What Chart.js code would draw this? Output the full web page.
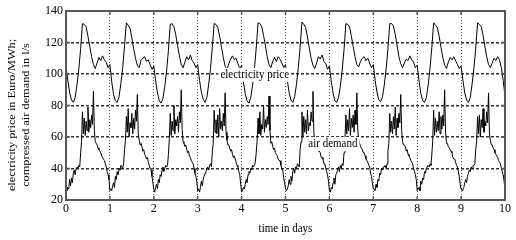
<!DOCTYPE html>
<html>
<head>
<meta charset="utf-8">
<script src="https://cdn.jsdelivr.net/npm/chart.js@4/dist/chart.umd.min.js"></script>
<style>
html,body{margin:0;padding:0;background:#fff;}
canvas{display:block;}
</style>
</head>
<body>
<canvas id="c" width="516" height="240"></canvas>
<script>
// ---- data ----
const xTickLabels = [0, 1, 2, 3, 4, 5, 6, 7, 8, 9, 10];
const yTickLabels = [20, 40, 60, 80, 100, 120, 140];
const seriesNames = ['electricity price', 'air demand'];
const xTitle = 'time in days';
const yTitle = ['electricity price in Euro/MWh;', 'compressed air demand in l/s'];

// electricity price, one value per hour (Euro/MWh)
const priceValues = [
  105, 96, 88, 83.5, 82, 85, 93, 103, 116, 132, 131.5, 130, 124, 117.5, 111, 106, 103.5, 107, 110.5, 108.5, 111.5, 109, 107.5, 104,
  106, 95, 87, 83, 82, 85.5, 94, 104, 118, 132.5, 131, 129, 123, 116, 110, 105.5, 104, 108.5, 110, 111, 108, 109, 106, 103,
  105, 95.5, 88, 83, 81.5, 84.5, 92, 102, 115, 131.5, 132, 130, 125, 118, 111.5, 106, 104, 107.5, 111, 109, 112, 108.5, 107, 104,
  106, 96, 88.5, 84, 82, 85, 93.5, 103.5, 117, 132, 131.5, 129.5, 124, 117, 110.5, 105, 103, 106.5, 109.5, 111.5, 109, 110, 106.5, 103.5,
  105.5, 95, 87.5, 83, 81.5, 85, 93, 103, 116.5, 132.5, 132, 130, 124.5, 118, 111, 106, 104, 108, 110.5, 108, 111, 109.5, 107, 104,
  106, 96, 88, 83.5, 82, 85.5, 93.5, 104, 117, 133, 131.5, 129.5, 123.5, 116.5, 110, 105.5, 103.5, 107, 111, 109.5, 112, 108, 106.5, 103,
  105, 95.5, 88, 83, 82, 85, 92.5, 102.5, 115.5, 132, 131.5, 130, 124, 117.5, 111, 106, 104.5, 108, 110, 111, 108.5, 110, 107, 104,
  106, 96, 88.5, 83.5, 82.5, 85.5, 93, 103, 116, 132, 132, 130.5, 125, 118, 111, 106.5, 104, 107, 109.5, 108.5, 111.5, 109, 107.5, 104,
  105.5, 95.5, 87.5, 83, 82, 85, 93, 103.5, 117, 132.5, 131, 129.5, 124, 117, 110.5, 105.5, 103.5, 107.5, 110.5, 109, 111, 108.5, 106, 103.5,
  105, 96, 88, 83.5, 82, 85, 93.5, 103.5, 116.5, 132.5, 131.5, 130, 124.5, 117.5, 111, 106, 104, 107, 110, 108.5, 111, 109, 104, 96,
  86
];

// compressed air demand, one value per half hour (l/s)
const airValues = [
  27,26,28,27,33,29,34,31,37,39,36,40,41,40,42,41,50,57,76,62,72,61,70,64,79,63,71,66,74,68,89,64,57,56,55,53,52,51,50,48,47,46,45,43,41,38,36,33,
  26,27,26,29,31,28,35,33,38,36,40,39,42,41,40,43,52,58,73,63,78,60,69,66,75,62,72,65,77,70,87,62,58,55,56,54,51,52,49,48,46,47,44,42,40,39,35,31,
  27,25,28,30,27,33,31,36,35,39,41,38,40,42,41,42,49,59,75,61,70,64,80,62,71,67,73,63,76,69,90,65,57,56,54,55,52,50,51,48,47,45,44,43,40,37,35,32,
  26,27,25,28,32,29,33,35,37,38,40,41,39,42,43,41,51,56,77,63,71,62,74,60,78,65,70,64,75,67,88,63,58,55,55,53,51,52,49,47,48,46,44,42,41,38,36,30,
  25,26,28,27,30,33,31,36,38,37,40,39,42,41,42,44,50,58,72,62,76,61,68,65,80,63,71,66,73,68,86,64,56,57,54,52,53,50,49,48,46,45,45,42,40,39,34,31,
  27,26,27,29,33,30,35,32,38,40,37,41,40,43,42,41,52,57,76,60,73,63,71,62,77,64,69,67,76,70,89,63,57,55,56,54,51,51,50,47,47,46,43,43,40,38,36,32,
  26,25,28,27,31,34,30,36,37,39,41,38,42,40,43,42,50,59,74,62,71,64,78,61,72,66,74,63,77,68,88,65,58,56,54,53,52,50,50,48,46,45,44,42,41,37,35,31,
  27,27,26,30,28,33,32,37,36,40,39,41,41,42,40,43,51,56,75,63,70,62,73,65,79,61,72,66,75,69,87,64,57,55,55,54,51,52,49,48,47,45,44,43,40,38,36,33,
  26,27,28,26,32,30,34,33,38,37,40,41,42,41,43,42,49,58,77,61,72,63,70,64,76,62,73,65,74,67,90,63,56,56,54,53,52,51,50,47,46,46,44,42,41,38,35,30,
  27,26,27,28,31,33,31,35,37,39,38,41,40,42,42,43,52,57,73,62,74,60,71,66,78,63,70,67,76,69,88,62,58,55,55,53,52,50,49,48,47,45,44,43,40,38,36,32,
  27
];

// time axis (days): hourly samples for price, half-hourly for air demand
const priceTime = priceValues.map((_, i) => i / 24);
const airTime = airValues.map((_, i) => i / 48);

// ---- drawing ----
const FONT = "'Liberation Serif', 'Times New Roman', serif";
Chart.defaults.font.family = FONT;
Chart.defaults.font.size = 12;
Chart.defaults.color = '#000';

const decor = {
  id: 'decor',
  afterDatasetsDraw(chart) {
    const {ctx, chartArea: a, scales: {x, y}} = chart;
    ctx.save();
    ctx.font = '11px ' + FONT;
    ctx.fillStyle = '#000';
    ctx.textAlign = 'center';
    ctx.textBaseline = 'middle';
    // in-plot series labels with white background
    const labels = [
      {text: seriesNames[0], x: 4.3, y: 99.5},
      {text: seriesNames[1], x: 6.08, y: 55.6}
    ];
    labels.forEach(l => {
      const px = x.getPixelForValue(l.x), py = y.getPixelForValue(l.y);
      const w = ctx.measureText(l.text).width;
      ctx.fillStyle = '#fff';
      ctx.fillRect(px - w / 2 - 2, py - 7, w + 4, 14);
      ctx.fillStyle = '#000';
      ctx.save();
      ctx.translate(px, py);
      ctx.scale(1, 1.15);
      ctx.fillText(l.text, 0, 0);
      ctx.restore();
    });
    // frame
    ctx.strokeStyle = '#585858';
    ctx.lineWidth = 2;
    ctx.strokeRect(a.left, a.top, a.right - a.left, a.bottom - a.top);
    // inward tick marks
    ctx.lineWidth = 1.5;
    ctx.beginPath();
    xTickLabels.forEach(v => {
      const px = x.getPixelForValue(v);
      ctx.moveTo(px, a.bottom); ctx.lineTo(px, a.bottom - 4);
      ctx.moveTo(px, a.top); ctx.lineTo(px, a.top + 4);
    });
    yTickLabels.forEach(v => {
      const py = y.getPixelForValue(v);
      ctx.moveTo(a.left, py); ctx.lineTo(a.left + 4, py);
      ctx.moveTo(a.right, py); ctx.lineTo(a.right - 4, py);
    });
    ctx.stroke();
    // axis titles
    ctx.fillStyle = '#000';
    ctx.save();
    ctx.translate((a.left + a.right) / 2, 229);
    ctx.scale(1, 1.15);
    ctx.fillText(xTitle, 0, 0);
    ctx.restore();
    [12, 26].forEach((cx, i) => {
      ctx.save();
      ctx.translate(cx, 115);
      ctx.rotate(-Math.PI / 2);
      ctx.scale(1.12, 1);
      ctx.fillText(yTitle[i], 0, 0);
      ctx.restore();
    });
    ctx.restore();
  }
};

new Chart(document.getElementById('c'), {
  type: 'line',
  data: {
    datasets: [
      {
        label: seriesNames[0],
        data: priceValues.map((v, i) => ({x: priceTime[i], y: v})),
        borderColor: '#000', borderWidth: 1, pointRadius: 0, tension: 0, fill: false
      },
      {
        label: seriesNames[1],
        data: airValues.map((v, i) => ({x: airTime[i], y: v})),
        borderColor: '#000', borderWidth: 1, pointRadius: 0, tension: 0, fill: false
      }
    ]
  },
  options: {
    responsive: false,
    animation: false,
    events: [],
    layout: {padding: {top: 11, right: 11, left: 0, bottom: 0}},
    plugins: {legend: {display: false}, tooltip: {enabled: false}},
    scales: {
      x: {
        type: 'linear', min: 0, max: 10,
        afterBuildTicks: s => { s.ticks = xTickLabels.map(v => ({value: v})); },
        afterFit: s => { s.height = 40; },
        ticks: {autoSkip: false, maxRotation: 0, padding: 2, callback: v => String(v)},
        grid: {
          drawTicks: false, lineWidth: 1,
          color: c => (c.tick && (c.tick.value === 0 || c.tick.value === 10)) ? 'rgba(0,0,0,0)' : '#555'
        },
        border: {display: false, dash: [1, 2]}
      },
      y: {
        type: 'linear', min: 20, max: 140,
        afterBuildTicks: s => { s.ticks = yTickLabels.map(v => ({value: v})); },
        afterFit: s => { s.width = 66; },
        ticks: {autoSkip: false, padding: 3, callback: v => String(v)},
        grid: {
          drawTicks: false, lineWidth: 1.4,
          color: c => (c.tick && (c.tick.value === 20 || c.tick.value === 140)) ? 'rgba(0,0,0,0)' : '#333'
        },
        border: {display: false, dash: [3, 2]}
      }
    }
  },
  plugins: [decor]
});
</script>
</body>
</html>
